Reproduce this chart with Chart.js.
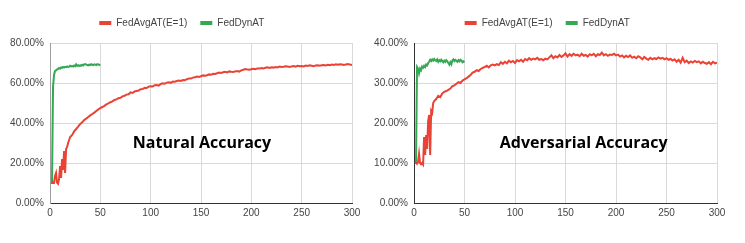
<!DOCTYPE html>
<html>
<head>
<meta charset="utf-8">
<title>Natural / Adversarial Accuracy</title>
<script src="https://cdn.jsdelivr.net/npm/chart.js@4.4.1/dist/chart.umd.min.js"></script>
<style>
  html, body { margin: 0; padding: 0; background: #fff; }
  #wrap { position: relative; width: 745px; height: 243px; overflow: hidden; }
  .panel { position: absolute; top: 0; height: 243px; }
</style>
</head>
<body>
<div id="wrap">
  <div class="panel" style="left:0; width:372px;"><canvas id="natChart" width="372" height="243"></canvas></div>
  <div class="panel" style="left:372px; width:373px;"><canvas id="advChart" width="373" height="243"></canvas></div>
</div>
<script>
// rounds for FedAvgAT (every round up to 20, then every 2nd round)
var avgRounds = [1,2,3,4,5,6,7,8,9,10,11,12,13,14,15,16,17,18,19,20,
  22,24,26,28,30,32,34,36,38,40, 42,44,46,48,50,52,54,56,58,60,
  62,64,66,68,70,72,74,76,78,80, 82,84,86,88,90,92,94,96,98,100,
  102,104,106,108,110,112,114,116,118,120, 122,124,126,128,130,132,134,136,138,140,
  142,144,146,148,150,152,154,156,158,160, 162,164,166,168,170,172,174,176,178,180,
  182,184,186,188,190,192,194,196,198,200, 202,204,206,208,210,212,214,216,218,220,
  222,224,226,228,230,232,234,236,238,240, 242,244,246,248,250,252,254,256,258,260,
  262,264,266,268,270,272,274,276,278,280, 282,284,286,288,290,292,294,296,298,300];

var dynRounds = [1,2,3,4,5,6,7,8,9,10,11,12,13,14,15,16,17,18,19,20,
  21,22,23,24,25,26,27,28,29,30,31,32,33,34,35,36,37,38,39,40,
  41,42,43,44,45,46,47,48,49,50];

// natural accuracy (%)
var natAvg = [10.2,10.0,10.1,10.0,13.5,15.0,10.2,9.6,12.0,18.5,12.5,22.0,16.5,26.0,15.0,27.0,28.0,30.0,31.5,33.0,
  34.0,35.8,37.0,38.2,39.5,40.3,41.5,42.2,43.0,43.8,
  44.5,45.2,46.0,46.8,47.5,48.0,48.6,49.3,49.8,50.4,
  50.8,51.5,51.8,52.4,52.6,53.3,53.6,54.2,54.4,55.3,
  55.0,55.8,56.0,56.2,56.9,57.0,57.6,57.5,58.2,58.4,
  58.3,58.9,59.0,58.7,59.5,59.8,59.6,60.2,60.4,60.1,
  60.7,60.6,61.0,61.2,61.0,61.5,61.4,61.9,62.3,62.2,
  62.7,62.9,63.2,63.0,63.4,63.8,63.6,63.9,64.3,64.1,
  64.6,64.5,64.9,65.2,65.0,65.4,65.6,65.3,65.8,65.6,
  65.5,65.8,66.0,65.7,66.3,66.6,67.0,66.8,66.6,66.9,
  67.1,66.9,67.3,67.2,67.5,67.3,67.6,67.8,67.5,67.9,
  67.7,68.0,67.8,68.2,68.0,68.1,68.4,68.2,68.0,68.3,
  68.5,68.2,68.6,68.4,68.5,68.3,68.7,68.5,68.8,68.6,
  68.4,68.8,68.9,68.6,68.9,69.0,68.8,69.1,68.9,69.2,
  69.0,69.3,69.1,69.4,69.2,69.0,69.3,69.5,69.2,69.0];
var natDyn = [10.0,10.2,58.0,64.0,66.0,66.3,66.8,67.0,67.5,67.2,
  67.8,67.6,68.0,67.7,68.1,67.9,68.3,68.0,68.2,68.6,
  68.3,68.5,68.2,68.7,68.4,69.3,68.6,68.9,68.5,68.8,
  68.7,69.1,68.8,69.3,69.5,69.2,69.0,68.8,69.2,69.0,
  69.4,69.1,68.9,69.3,69.2,69.0,69.4,69.2,69.1,68.9];

// adversarial accuracy (%)
var advAvg = [10.0,10.1,9.8,10.2,12.3,10.0,9.7,10.0,9.6,16.5,12.0,17.0,13.5,20.5,22.0,12.0,23.0,22.5,25.0,25.5,
  26.0,26.8,26.5,27.4,27.8,28.0,28.3,28.6,29.2,29.4,
  29.8,30.2,30.0,30.6,30.9,31.2,31.6,32.0,32.6,32.8,
  33.2,33.0,33.5,33.8,34.0,34.3,33.9,34.4,34.6,34.4,
  34.7,34.5,35.2,34.8,35.3,34.9,35.6,35.2,35.5,35.0,
  35.7,35.4,35.8,35.3,36.0,35.7,36.2,35.8,36.1,35.9,
  36.3,35.8,36.0,35.7,36.1,35.9,36.4,36.9,36.2,36.7,
  36.4,37.0,36.5,36.9,37.4,36.6,37.2,36.8,37.3,36.9,
  37.1,36.7,37.3,36.8,37.0,36.6,37.2,36.9,37.3,36.7,
  37.2,37.0,37.6,36.9,37.2,36.8,37.1,37.0,37.3,36.9,
  37.1,36.6,36.9,36.4,36.8,36.5,36.9,36.3,36.6,36.2,
  36.7,36.4,35.9,36.5,36.1,35.8,36.3,35.9,36.2,36.0,
  36.4,36.1,36.3,35.9,36.2,35.8,36.0,35.6,35.9,35.3,
  35.8,35.1,36.3,35.2,35.6,35.0,35.4,35.1,35.5,35.2,
  35.4,34.9,35.3,35.0,34.8,35.2,34.7,35.3,34.9,35.1];
var advDyn = [10.0,10.1,34.0,33.6,32.4,33.6,33.2,34.1,33.8,34.3,
  34.0,34.6,34.4,35.0,35.3,35.8,35.5,35.9,35.6,36.0,
  35.7,35.5,35.9,35.3,35.7,35.4,35.8,35.5,35.2,35.6,
  35.3,35.7,35.4,35.0,34.6,35.2,34.7,35.6,35.9,35.5,
  35.8,35.6,35.3,35.7,35.4,35.8,35.6,35.2,35.4,35.2];

var seriesNames = ['FedAvgAT(E=1)', 'FedDynAT'];
var xTicks = [0, 50, 100, 150, 200, 250, 300];

var RED = '#ea4335';
var GREEN = '#34a853';
var FONT = '"Liberation Sans", Arial, sans-serif';

function pts(xs, ys) {
  return ys.map(function (v, i) { return { x: xs[i], y: v }; });
}

// bold caption placed at a data position
var captionPlugin = {
  id: 'caption',
  afterDatasetsDraw: function (chart, args, opts) {
    var ctx = chart.ctx;
    var x = chart.scales.x.getPixelForValue(opts.at[0]);
    var y = chart.scales.y.getPixelForValue(opts.at[1]);
    ctx.save();
    ctx.font = 'bold 16px "Open Sans", "Noto Sans", sans-serif';
    ctx.fillStyle = '#000';
    ctx.textAlign = 'center';
    ctx.textBaseline = 'middle';
    ctx.fillText(opts.text, x, y);
    ctx.restore();
  }
};

// fix legend height and nudge it sideways
var legendFix = {
  id: 'legendFix',
  beforeInit: function (chart) {
    var lg = chart.legend;
    var fit = lg.fit;
    lg.fit = function () {
      fit.call(this);
      this.height = 38;
    };
  },
  afterLayout: function (chart, args, opts) {
    chart.legend.left += opts.shift;
    chart.legend.right += opts.shift;
  }
};

function makeChart(id, avg, dyn, yMax, yStep, yWidth, padRight, axisColor, caption, captionAt, shift) {
  return new Chart(document.getElementById(id), {
    type: 'line',
    data: {
      datasets: [{
        label: seriesNames[0],
        data: pts(avgRounds, avg),
        borderColor: RED,
        backgroundColor: RED,
        borderWidth: 2,
        pointRadius: 0,
        tension: 0
      }, {
        label: seriesNames[1],
        data: pts(dynRounds, dyn),
        borderColor: GREEN,
        backgroundColor: GREEN,
        borderWidth: 2,
        pointRadius: 0,
        tension: 0
      }]
    },
    options: {
      responsive: false,
      animation: false,
      layout: { padding: { top: 5, right: padRight, bottom: 0, left: 0 } },
      plugins: {
        tooltip: { enabled: false },
        legend: {
          position: 'top',
          labels: {
            boxWidth: 12,
            boxHeight: 4,
            padding: 13,
            color: '#444',
            font: { family: FONT, size: 10 },
            generateLabels: function (chart) {
              var items = Chart.defaults.plugins.legend.labels.generateLabels(chart);
              items.forEach(function (it) { it.lineWidth = 0; });
              return items;
            }
          }
        },
        caption: { text: caption, at: captionAt },
        legendFix: { shift: shift }
      },
      scales: {
        x: {
          type: 'linear',
          min: 0,
          max: 300,
          afterBuildTicks: function (scale) {
            scale.ticks = xTicks.map(function (v) { return { value: v }; });
          },
          afterFit: function (scale) { scale.height = 40; },
          grid: { color: '#d9d9d9', drawTicks: false },
          border: { color: '#333', width: 1 },
          ticks: { color: '#444', font: { family: FONT, size: 10 }, padding: 4, maxRotation: 0 }
        },
        y: {
          min: 0,
          max: yMax,
          afterFit: function (scale) { scale.width = yWidth; },
          grid: { color: '#d9d9d9', drawTicks: false },
          border: { color: axisColor, width: 1 },
          ticks: {
            stepSize: yStep,
            color: '#444',
            font: { family: FONT, size: 10 },
            padding: 6,
            callback: function (v) { return v.toFixed(2) + '%'; }
          }
        }
      }
    },
    plugins: [captionPlugin, legendFix]
  });
}

makeChart('natChart', natAvg, natDyn, 80, 20, 50, 20, '#9e9e9e', 'Natural Accuracy', [151, 30], 5.8);
makeChart('advChart', advAvg, advDyn, 40, 10, 42, 28, '#333', 'Adversarial Accuracy', [168, 15], 2.7);
</script>
</body>
</html>
